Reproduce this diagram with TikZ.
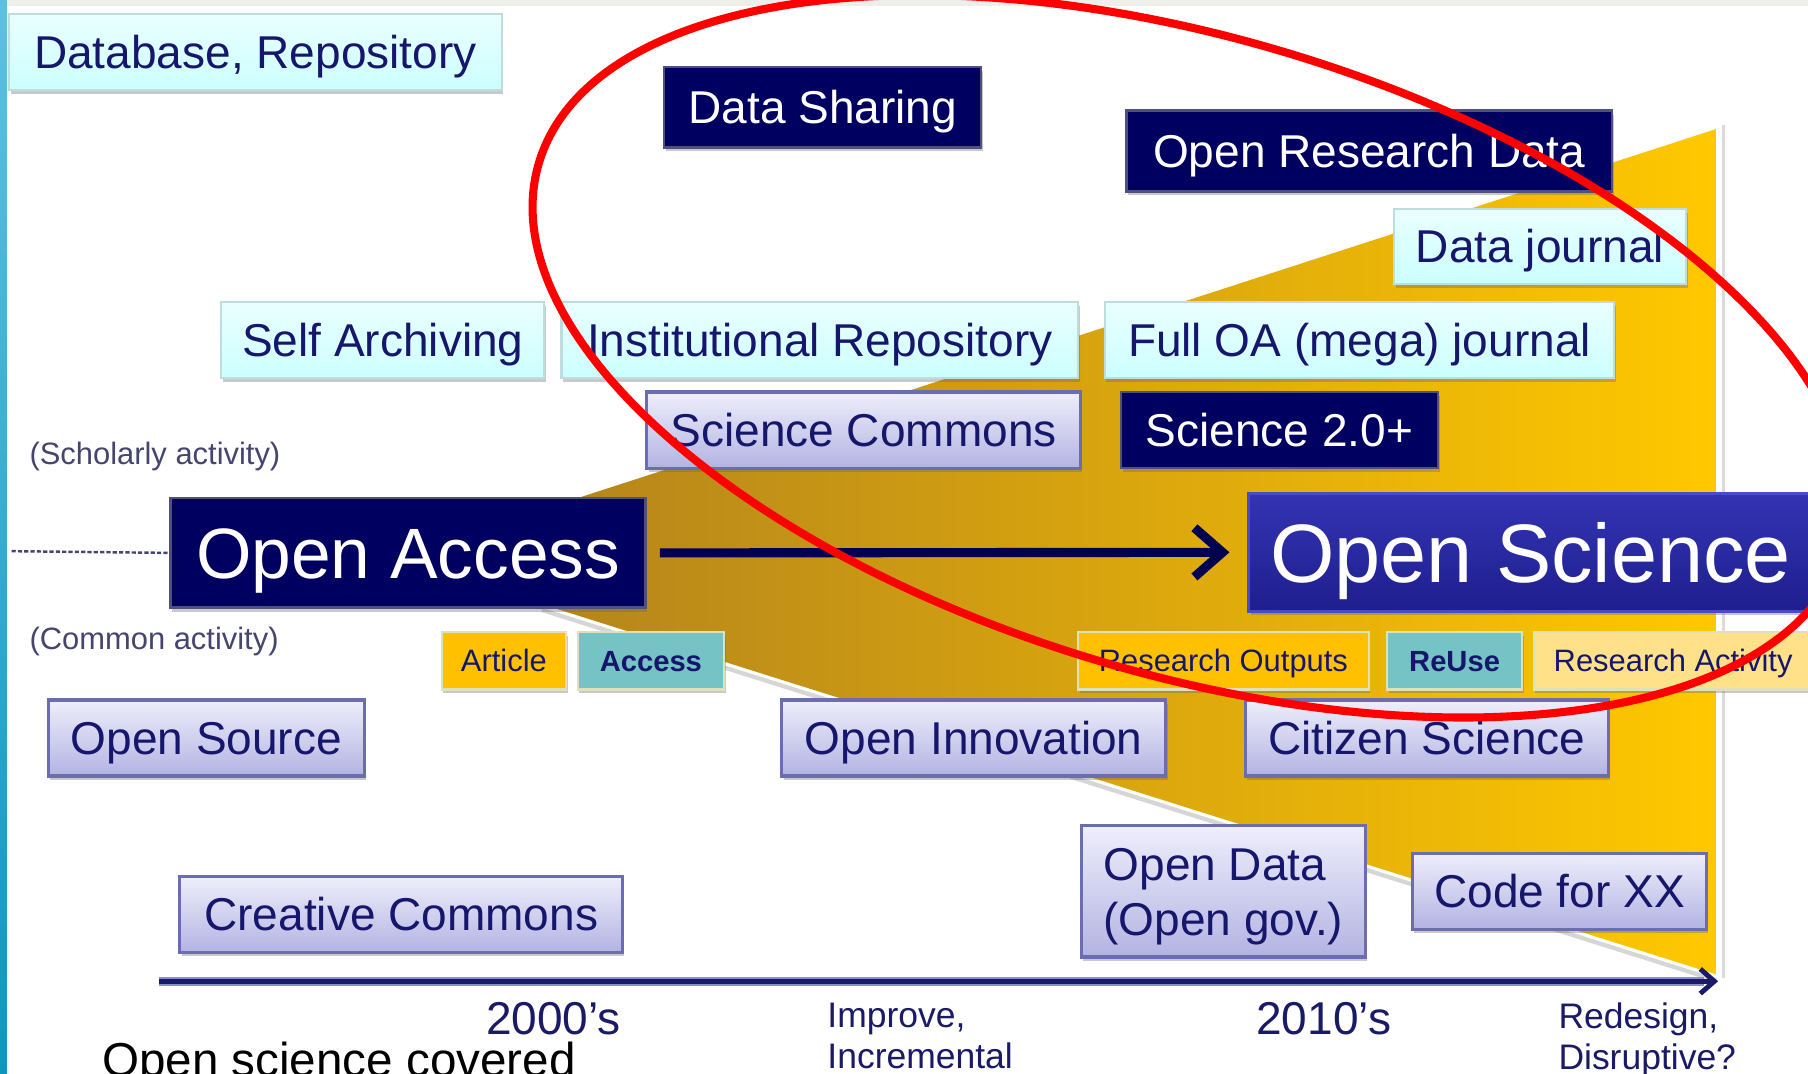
\documentclass[tikz,border=0pt]{standalone}
\usepackage{fontspec}
\setmainfont{Liberation Sans}
\usetikzlibrary{arrows.meta,shadows}
\definecolor{cyantop}{HTML}{EAFFFF}
\definecolor{cyanbot}{HTML}{CCFFFF}
\definecolor{cyanedge}{HTML}{BFDDDD}
\definecolor{lavtop}{HTML}{EEEEFB}
\definecolor{lavbot}{HTML}{B3B3E3}
\definecolor{lavedge}{HTML}{6C6CB0}
\definecolor{navyfill}{HTML}{000060}
\definecolor{navyedge}{HTML}{50507C}
\definecolor{ostop}{HTML}{3434B4}
\definecolor{osbot}{HTML}{1E1E8E}
\definecolor{osedge}{HTML}{4A4ACC}
\definecolor{txtnavy}{HTML}{16166C}
\definecolor{goldA}{HTML}{B4841C}
\definecolor{goldB}{HTML}{E6A600}
\definecolor{goldC}{HTML}{FFC800}
\definecolor{tagorange}{HTML}{FFC000}
\definecolor{tagteal}{HTML}{76C3C5}
\definecolor{tagpale}{HTML}{FFE18A}
\definecolor{tagedge}{HTML}{E0E0BC}
\definecolor{actcol}{HTML}{45456E}
\definecolor{axiscol}{HTML}{1A1A66}
\definecolor{axisedge}{HTML}{8C8CCC}
\definecolor{arrowcol}{HTML}{00004E}
\definecolor{stripA}{HTML}{5CC2E0}
\definecolor{stripB}{HTML}{0A98C0}
\definecolor{topband}{HTML}{EEEEEA}
\newcommand\bx[7]{\node[#2, minimum width={(#5-#3)*0.011531cm}, minimum height={(#6-#4)*0.011531cm}] (#1) at ({(#3+#5)/2},{(#4+#6)/2}) {#7};}
\begin{document}
\begin{tikzpicture}[x=0.011531cm, y=-0.011531cm,
  lbl/.style={inner sep=0pt, outer sep=0pt, font=\fontsize{13.1}{15.7}\selectfont, text=txtnavy, text height=9.4pt, text depth=0pt},
  shad/.style={drop shadow={shadow xshift=0.5pt, shadow yshift=-1.1pt, opacity=0.35, fill=black!60}},
  cyanbox/.style={lbl, shad, draw=cyanedge, line width=0.6pt, top color=cyantop, bottom color=cyanbot},
  lavbox/.style={lbl, shad, draw=lavedge, line width=0.9pt, top color=lavtop, bottom color=lavbot},
  navybox/.style={lbl, shad, draw=navyedge, line width=0.7pt, fill=navyfill, text=white},
  tagbox/.style={inner sep=0pt, outer sep=0pt, shad, draw=tagedge, line width=0.6pt, font=\fontsize{8.8}{10}\selectfont, text=txtnavy, text height=6.3pt, text depth=0pt},
  acttext/.style={inner sep=0pt, anchor=west, font=\fontsize{8.8}{10}\selectfont, text=actcol},
  axtext/.style={inner sep=0pt, font=\fontsize{10.1}{11.8}\selectfont, text=axiscol, align=left, anchor=north west},
  yeartext/.style={inner sep=0pt, font=\fontsize{13.1}{15.7}\selectfont, text=axiscol, anchor=north}]
\useasboundingbox (0,0) rectangle (1568,931);
\clip (0,0) rectangle (1568,931);
\fill[white] (0,0) rectangle (1568,931);
\fill[topband] (0,0) rectangle (1568,5);
\shade[top color=stripA, bottom color=stripB] (0,0) rectangle (6,931);
% gold wedge
\shade[left color=goldA, middle color=goldB, right color=goldC] (470,442) -- (1488,112) -- (1488,845) -- (470,524) -- cycle;
\draw[black!16, line width=1.2pt] (470,529) -- (1488,850);
\draw[black!14, line width=0.9pt] (1495,108) -- (1495,848);
% dotted divider
\coordinate (dl) at (10,478);
% boxes
\bx{db}{cyanbox}{8}{12}{435}{78}{Database, Repository}
\bx{ds}{navybox}{576}{58}{851}{128}{Data Sharing}
\bx{ord}{navybox}{977}{96}{1398}{166}{Open Research Data}
\bx{dj}{cyanbox}{1209}{181}{1462}{246}{Data journal}
\bx{sa}{cyanbox}{192}{262}{472}{328}{Self Archiving}
\bx{ir}{cyanbox}{487}{262}{935}{328}{Institutional Repository}
\bx{foa}{cyanbox}{958}{262}{1400}{328}{Full OA (mega) journal}
\bx{sc}{lavbox}{561}{340}{937}{406}{Science Commons}
\bx{s20}{navybox}{972}{340}{1247}{406}{Science 2.0+}
\bx{oa}{navybox, font=\fontsize{20.3}{24}\selectfont, text height=14.5pt}{148}{432}{560}{527}{Open Access}
\bx{os}{lbl, shad, draw=osedge, line width=0.9pt, top color=ostop, bottom color=osbot, text=white, font=\fontsize{23.6}{28}\selectfont, text height=16.9pt}{1083}{428}{1572}{530}{Open Science}
\bx{art}{tagbox, fill=tagorange}{383}{548}{491}{598}{Article}
\bx{acc}{tagbox, fill=tagteal, font=\fontsize{8.3}{10}\bfseries, text height=6pt}{501}{548}{628}{598}{Access}
\bx{ro}{tagbox, fill=tagorange}{935}{548}{1187}{598}{Research Outputs}
\bx{ru}{tagbox, fill=tagteal, font=\fontsize{8.3}{10}\bfseries, text height=6pt}{1203}{548}{1320}{598}{ReUse}
\bx{ra}{tagbox, fill=tagpale}{1330}{548}{1572}{598}{Research Activity}
\bx{osrc}{lavbox}{42}{607}{316}{673}{Open Source}
\bx{oi}{lavbox}{678}{607}{1011}{673}{Open Innovation}
\bx{cs}{lavbox}{1080}{607}{1395}{673}{Citizen Science}
\bx{od}{lavbox, align=left, text height=25.1pt, text depth=0pt}{938}{716}{1184}{830}{Open Data\\(Open gov.)}
\bx{cxx}{lavbox}{1225}{740}{1480}{806}{Code for XX}
\bx{cc}{lavbox}{156}{760}{540}{826}{Creative Commons}
% divider line
\draw[actcol, line width=0.7pt, dash pattern=on 1.2pt off 0.6pt] (dl) -- (oa.west);
% activity labels
\node[acttext] (schol) at (25,396) {(Scholarly activity)};
\node[acttext] (comm) at (25,556) {(Common activity)};
% main arrow
\draw[arrowcol, line width=2.6pt, -{Straight Barb[length=8pt,width=14pt]}] ([xshift=4pt]oa.east) -- ([xshift=-5.5pt]os.west);
% timeline
\coordinate (t0) at (138,851);
\coordinate (t1) at (1490,851);
\coordinate (t1b) at (1478,851);
\draw[axisedge, line width=2.6pt] (t0) -- (t1b);
\draw[axiscol, line width=1.4pt, -{Straight Barb[length=4pt,width=7pt]}] (t0) -- (t1);
\node[yeartext] (y2000) at (480,869) {2000's};
\node[yeartext] (y2010) at (1148,869) {2010's};
\node[axtext] (imp) at (717,869) {Improve,\\Incremental};
\node[axtext] (red) at (1351,869) {Redesign,\\Disruptive?};
\node[inner sep=0pt, anchor=base west, font=\fontsize{13.55}{16}\selectfont, text=black] (cap) at (88,934) {Open science covered};
% red ellipse
\draw[red, line width=2.3pt, rotate around={-16.5:(1033,309)}] (1033,309) ellipse [x radius=590, y radius=276];
\end{tikzpicture}
\end{document}
